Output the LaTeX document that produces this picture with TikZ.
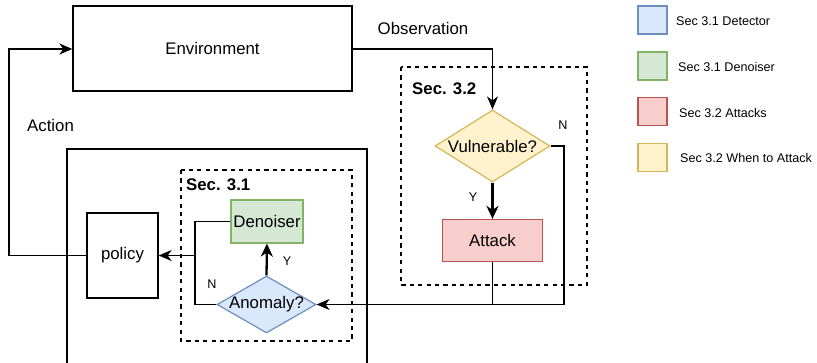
\documentclass[tikz,border=0pt]{standalone}
\usepackage{fontspec}
\setmainfont{Liberation Sans}
\usetikzlibrary{arrows.meta,shapes.geometric}
\definecolor{bluefill}{HTML}{DAE8FC}\definecolor{bluedraw}{HTML}{6C8EBF}
\definecolor{greenfill}{HTML}{D5E8D4}\definecolor{greendraw}{HTML}{82B366}
\definecolor{redfill}{HTML}{F8CECC}\definecolor{reddraw}{HTML}{B85450}
\definecolor{yellowfill}{HTML}{FFF2CC}\definecolor{yellowdraw}{HTML}{D6B656}
\tikzset{
  mainfont/.style={font=\fontsize{16.8}{20}\selectfont},
  smallfont/.style={font=\fontsize{12.6}{15}\selectfont},
  box/.style={draw, line width=1.3pt, rectangle, inner sep=0pt, mainfont},
  flowbox/.style={box, line width=1.2pt},
  decision/.style={diamond, draw, line width=1.2pt, inner sep=0pt},
  groupbox/.style={draw, dashed, dash pattern=on 4.2pt off 4.2pt, line width=1.3pt},
  conn/.style={line width=1.3pt, -{Stealth[length=13pt,width=11pt,inset=4pt]}},
  thickconn/.style={line width=2.3pt, -{Stealth[length=13pt,width=12pt,inset=4pt]}},
  plain/.style={line width=1.3pt},
  lbl/.style={inner sep=0pt, mainfont},
  edgelbl/.style={inner sep=0pt, smallfont},
  grouplbl/.style={inner sep=0pt, font=\fontsize{16.8}{20}\selectfont\bfseries},
  legsq/.style={draw, line width=1.2pt, minimum width=29pt, minimum height=28pt, inner sep=0pt},
  leglbl/.style={inner sep=0pt, anchor=west, smallfont},
}
\begin{document}
\begin{tikzpicture}[x=1pt,y=-1pt]
\useasboundingbox (0,0) rectangle (817,362);
% outer container (bottom cut off)
\draw[plain] (67,370) -- (67,149) -- (367,149) -- (367,370);
% group boxes
\draw[groupbox] (181,170) rectangle (352,341);
\draw[groupbox] (401,67) rectangle (587,285);
\node[grouplbl, anchor=west] (s31) at (186,185) {Sec. 3.1};
\node[grouplbl, anchor=west] (s32) at (412,89) {Sec. 3.2};
% nodes
\node[box, minimum width=279pt, minimum height=85pt] (env) at (212.5,48.5) {Environment};
\node[box, minimum width=71pt, minimum height=85pt] (policy) at (122.5,255.5) {policy};
\node[flowbox, fill=greenfill, draw=greendraw, minimum width=72pt, minimum height=43pt] (den) at (267,221.5) {Denoiser};
\node[flowbox, fill=redfill, draw=reddraw, minimum width=100pt, minimum height=42pt] (att) at (492.5,240.5) {Attack};
\node[decision, fill=yellowfill, draw=yellowdraw, minimum width=115pt, minimum height=72pt] (vul) at (492.5,146) {};
\node[lbl] (vult) at (vul.center) {Vulnerable?};
\node[decision, fill=bluefill, draw=bluedraw, minimum width=99pt, minimum height=57pt] (ano) at (266.5,304.5) {};
\node[lbl] (anot) at (ano.center) {Anomaly?};
% coordinates
\coordinate (actcorner1) at (9,255.5);
\coordinate (actcorner2) at (9,49);
\coordinate (obscorner) at (492.5,49);
\coordinate (ncorner1) at (564,146);
\coordinate (ncorner2) at (564,304.5);
\coordinate (attjoin) at (492.5,304.5);
\coordinate (jx) at (195,255.5);
% connectors
\draw[conn] (policy.west) -- (actcorner1) -- (actcorner2) -- (env.west |- actcorner2);
\draw[conn] (env.east |- obscorner) -- (obscorner) -- (vul.north);
\draw[thickconn] (vul.south) -- (att.north);
\draw[conn] (vul.east) -- (ncorner1) -- (ncorner2) -- (ano.east);
\draw[plain] (att.south) -- (attjoin);
\draw[thickconn] (ano.north) -- (den.south);
\draw[conn] (ano.west) -- (jx |- ano.west) -- (jx) -- (policy.east);
\draw[plain] (den.west) -- (jx |- den.west) -- (jx);
% labels
\node[lbl] (action) at (50.5,125) {Action};
\node[lbl] (obs) at (423,28) {Observation};
\node[edgelbl] (vn) at (563,125) {N};
\node[edgelbl] (vy) at (473,197) {Y};
\node[edgelbl] (ay) at (287,261) {Y};
\node[edgelbl] (an) at (212,284) {N};
% legend
\node[legsq, fill=bluefill, draw=bluedraw] (l1) at (652.5,20) {};
\node[legsq, fill=greenfill, draw=greendraw] (l2) at (652.5,66) {};
\node[legsq, fill=redfill, draw=reddraw] (l3) at (652.5,111.5) {};
\node[legsq, fill=yellowfill, draw=yellowdraw] (l4) at (652.5,157.5) {};
\node[leglbl] (t1) at (676,21) {Sec 3.1 Detector};
\node[leglbl] (t2) at (678,67) {Sec 3.1 Denoiser};
\node[leglbl] (t3) at (679,113) {Sec 3.2 Attacks};
\node[leglbl] (t4) at (680,158) {Sec 3.2 When to Attack};
\end{tikzpicture}
\end{document}
